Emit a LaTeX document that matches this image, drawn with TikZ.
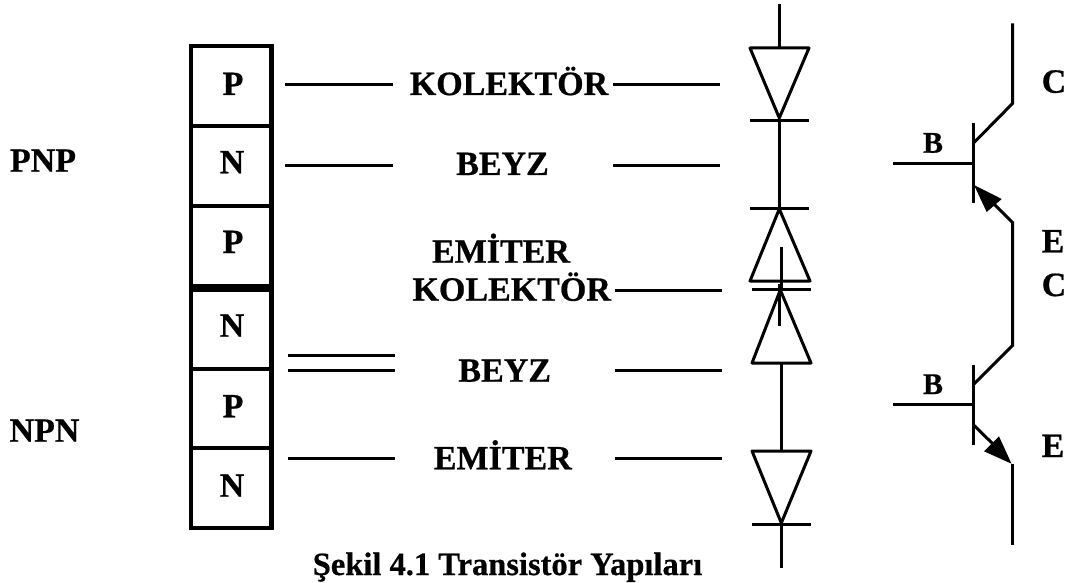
\documentclass[tikz,border=0pt]{standalone}
\usepackage{fontspec}
\setmainfont[BoldFeatures={FakeBold=0.6}]{Liberation Serif}
\begin{document}
\begin{tikzpicture}[x=1pt,y=-1pt,
  wire/.style={line width=3pt,line cap=butt,line join=miter},
  lead/.style={line width=3pt,line cap=butt},
  tri/.style={line width=3pt,line join=round},
  frame/.style={line width=4.2pt,line cap=butt},
  txt/.style={inner sep=0pt,anchor=base,font=\bfseries\fontsize{34}{36}\selectfont},
  small/.style={inner sep=0pt,anchor=base,font=\bfseries\fontsize{30}{32}\selectfont},
  captxt/.style={inner sep=0pt,anchor=base,font=\bfseries\fontsize{32.5}{36}\selectfont},
  head/.style={fill=black,draw=none}]
\useasboundingbox (0,0) rectangle (1068,583);
\fill[white] (0,0) rectangle (1068,583);
% layered block
\draw[frame] (191,44) -- (191,530);
\draw[line width=5.2pt] (271.5,44) -- (271.5,530);
\foreach \y/\w in {45.7/4.2,125.8/4.2,205.8/4.2,287.5/8,368.7/4.2,448/4.2,528/4.2}
  \draw[line width=\w pt] (189,\y) -- (274,\y);
\node[txt] (c1) at (233,95) {P};
\node[txt] (c2) at (232,173.3) {N};
\node[txt] (c3) at (233,253) {P};
\node[txt] (c4) at (232,336.7) {N};
\node[txt] (c5) at (233,417.3) {P};
\node[txt] (c6) at (232,496.7) {N};
% side labels
\node[txt] (pnp) at (43,171.7) {PNP};
\node[txt] (npn) at (44.5,441.7) {NPN};
% middle labels
\node[txt] (k1) at (509,95) {KOLEKTÖR};
\node[txt] (b1) at (502.5,175) {BEYZ};
\node[txt] (e1) at (501,262.7) {EMİTER};
\node[txt] (k2) at (511.7,300.7) {KOLEKTÖR};
\node[txt] (b2) at (504.7,381.7) {BEYZ};
\node[txt] (e2) at (502.8,469.3) {EMİTER};
\node[captxt] (cap) at (507.5,575) {Şekil 4.1 Transistör Yapıları};
% leaders
\coordinate (l1a) at (285,85); \coordinate (l1b) at (392.7,85);
\coordinate (l2a) at (285,165); \coordinate (l2b) at (392.7,165);
\coordinate (l3a) at (287.7,355); \coordinate (l3b) at (395,355);
\coordinate (l4a) at (287.7,370.7); \coordinate (l4b) at (395,370.7);
\coordinate (l5a) at (287.7,458.5); \coordinate (l5b) at (395,458.5);
\coordinate (r1a) at (613,85); \coordinate (r1b) at (720,85);
\coordinate (r2a) at (613,165); \coordinate (r2b) at (720,165);
\coordinate (r3a) at (615,290.5); \coordinate (r3b) at (722,290.5);
\coordinate (r4a) at (615,370.7); \coordinate (r4b) at (722,370.7);
\coordinate (r5a) at (615,458.7); \coordinate (r5b) at (722,458.7);
\foreach \a/\b in {l1a/l1b,l2a/l2b,l3a/l3b,l4a/l4b,l5a/l5b,r1a/r1b,r2a/r2b,r3a/r3b,r4a/r4b,r5a/r5b}
  \draw[lead] (\a) -- (\b);
% diodes
\draw[wire] (779.3,4) -- (779.3,48);
\draw[tri] (750,48) -- (809,48) -- (779.3,118) -- cycle;
\draw[wire] (750,120.3) -- (809,120.3);
\draw[wire] (779.3,120.3) -- (779.3,208.3);
\draw[wire] (750,208.3) -- (809,208.3);
\draw[tri] (779.3,209) -- (810,281) -- (750,281) -- cycle;
\draw[wire] (781.3,247) -- (781.3,291);
\draw[wire] (752,289.7) -- (811,289.7);
\draw[wire] (779.5,284) -- (779.5,326);
\draw[tri] (780.3,290) -- (811,363) -- (752,363) -- cycle;
\draw[wire] (781.3,363) -- (781.3,451);
\draw[tri] (752,451) -- (811,451) -- (781.3,523) -- cycle;
\draw[wire] (752,524.3) -- (811,524.3);
\draw[wire] (781.3,524.3) -- (781.3,568);
% transistors
\draw[wire] (1012.7,23.3) -- (1012.7,103.3) -- (973.3,143.3);
\draw[wire] (973.3,123.3) -- (973.3,202.7);
\draw[wire] (893,163) -- (973.3,163);
\draw[wire] (990,200) -- (1012.7,222.7) -- (1012.7,345.3) -- (973.3,384.7);
\fill[head] (974,185) -- (1001.7,199) -- (986.7,212) -- cycle;
\draw[wire] (973.3,365.3) -- (973.3,444.7);
\draw[wire] (893,404.7) -- (973.3,404.7);
\draw[wire] (973.3,424.7) -- (995,446);
\fill[head] (1011.5,463.7) -- (999,436.3) -- (984,451.3) -- cycle;
\draw[wire] (1012.7,464) -- (1012.7,544.7);
\node[small] (tb) at (933,152.7) {B};
\node[small] (bb) at (933,394) {B};
\node[txt] (tc) at (1054,92.7) {C};
\node[txt] (te) at (1053,252.3) {E};
\node[txt] (tc2) at (1054,296) {C};
\node[txt] (be) at (1053,457) {E};
\end{tikzpicture}
\end{document}
